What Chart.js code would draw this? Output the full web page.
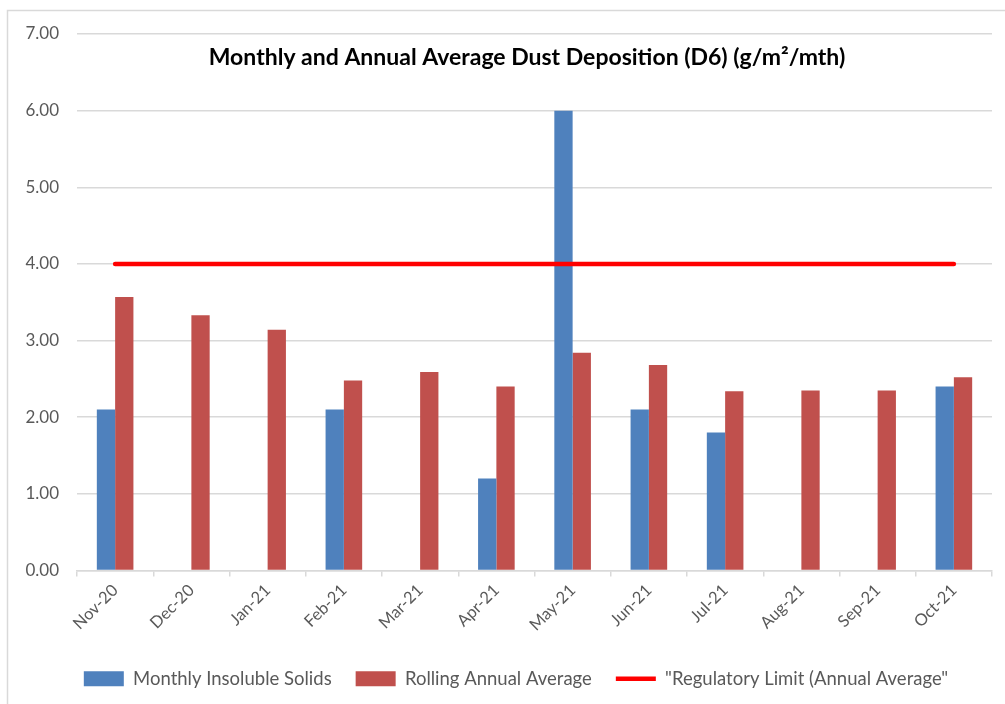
<!DOCTYPE html>
<html lang="en">
<head>
  <meta charset="UTF-8">
  <title>Dust Deposition (D6)</title>
  <script src="https://cdn.jsdelivr.net/npm/chart.js"></script>
  <style>
    html, body { margin: 0; padding: 0; background: #fff; }
    #wrap { position: relative; width: 1005px; height: 704px; }
  </style>
</head>
<body>
  <div id="wrap"><canvas id="chart" width="1005" height="704"></canvas></div>
  <script>
    // data
    const months = ['Nov-20', 'Dec-20', 'Jan-21', 'Feb-21', 'Mar-21', 'Apr-21',
                    'May-21', 'Jun-21', 'Jul-21', 'Aug-21', 'Sep-21', 'Oct-21'];
    const monthlySolids = [2.1, null, null, 2.1, null, 1.2, 6.0, 2.1, 1.8, null, null, 2.4];
    const rollingAvg = [3.57, 3.33, 3.14, 2.48, 2.59, 2.40, 2.84, 2.68, 2.34, 2.35, 2.35, 2.52];
    const regLimit = [4, 4, 4, 4, 4, 4, 4, 4, 4, 4, 4, 4];
    const yTicks = [0, 1, 2, 3, 4, 5, 6, 7];

    const grey = '#595959';
    const gridGrey = '#d9d9d9';
    const fontFam = 'Lato, "Noto Sans", sans-serif';

    // excel-like frame + title sitting inside the plot area
    const framePlugin = {
      id: 'frame',
      afterLayout(chart) {
        // nudge legend a bit right, excel centres it on the frame not the canvas
        if (chart.legend) {
          chart.legend.left += 11;
          chart.legend.right += 11;
        }
      },
      beforeDraw(chart) {
        const ctx = chart.ctx;
        ctx.save();
        ctx.fillStyle = '#fff';
        ctx.fillRect(0, 0, chart.width, chart.height);
        ctx.strokeStyle = gridGrey;
        ctx.lineWidth = 1.5;
        ctx.beginPath();
        ctx.moveTo(7.5, chart.height);
        ctx.lineTo(7.5, 10.5);
        ctx.lineTo(chart.width, 10.5);
        ctx.stroke();
        ctx.restore();
      },
      afterDraw(chart) {
        const ctx = chart.ctx;
        ctx.save();
        ctx.font = 'bold 23px ' + fontFam;
        ctx.fillStyle = '#000';
        ctx.textAlign = 'center';
        ctx.textBaseline = 'middle';
        ctx.fillText('Monthly and Annual Average Dust Deposition (D6) (g/m\u00B2/mth)', 527, 58);
        ctx.restore();
      }
    };

    new Chart(document.getElementById('chart'), {
      type: 'bar',
      data: {
        labels: months,
        datasets: [
          {
            label: 'Monthly Insoluble Solids',
            data: monthlySolids,
            backgroundColor: '#4F81BD',
            categoryPercentage: 0.48,
            barPercentage: 1.0,
            order: 1,
            pointStyle: 'rect'
          },
          {
            label: 'Rolling Annual Average',
            data: rollingAvg,
            backgroundColor: '#C0504D',
            categoryPercentage: 0.48,
            barPercentage: 1.0,
            order: 2,
            pointStyle: 'rect'
          },
          {
            type: 'line',
            label: '"Regulatory Limit (Annual Average"',
            data: regLimit,
            borderColor: '#FF0000',
            backgroundColor: '#FF0000',
            borderWidth: 4.5,
            borderCapStyle: 'round',
            pointRadius: 0,
            pointStyle: 'line',
            order: 0
          }
        ]
      },
      options: {
        responsive: false,
        animation: false,
        layout: { padding: { top: 34, right: 13, left: 18, bottom: 6 } },
        plugins: {
          title: { display: false },
          tooltip: { enabled: false },
          legend: {
            position: 'bottom',
            labels: {
              usePointStyle: true,
              pointStyleWidth: 40,
              boxHeight: 15,
              padding: 24,
              color: grey,
              font: { family: fontFam, size: 18.5 },
              sort: (a, b) => a.datasetIndex - b.datasetIndex
            }
          }
        },
        scales: {
          x: {
            grid: {
              display: true,
              drawOnChartArea: false,
              drawTicks: true,
              tickLength: 6,
              color: gridGrey,
              lineWidth: 1.5
            },
            border: { display: true, color: gridGrey, width: 1.5 },
            ticks: {
              color: grey,
              font: { family: fontFam, size: 16.5 },
              maxRotation: 45,
              minRotation: 45,
              padding: 4
            },
            afterFit(axis) { axis.height = 75; }
          },
          y: {
            min: 0,
            max: 7,
            afterBuildTicks(axis) { axis.ticks = yTicks.map(v => ({ value: v })); },
            grid: { color: gridGrey, lineWidth: 1.5, drawTicks: false },
            border: { display: false },
            ticks: {
              color: grey,
              font: { family: fontFam, size: 17 },
              padding: 18,
              callback: v => Number(v).toFixed(2)
            },
            afterFit(axis) { axis.width = 59; }
          }
        }
      },
      plugins: [framePlugin]
    });
  </script>
</body>
</html>
